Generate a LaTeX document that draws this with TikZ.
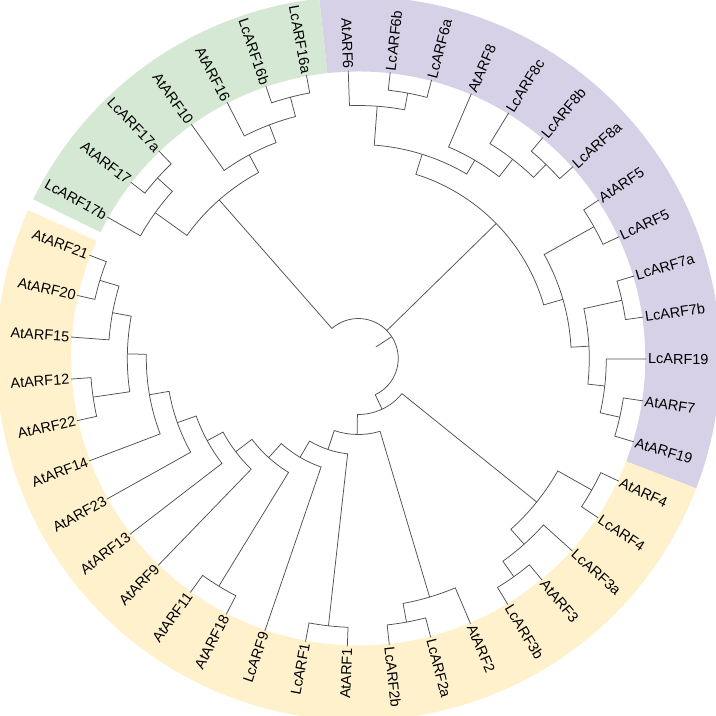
\documentclass[tikz,border=0pt]{standalone}
\usepackage{fontspec}
\setmainfont{Liberation Sans}
\usetikzlibrary{calc}

\definecolor{bandgreen}{RGB}{213,232,212}
\definecolor{bandpurple}{RGB}{215,209,232}
\definecolor{bandyellow}{RGB}{255,241,204}
\definecolor{treegray}{RGB}{80,80,80}

% arc of a clade at the radius of #1, joining children #2 and #3
\newcommand\clade[3]{%
  \draw[branch] let \p1=(#1), \p2=(#2), \p3=(#3),
    \n1={veclen(\x1,\y1)}, \n2={atan2(\y2,\x2)}, \n3={atan2(\y3,\x3)},
    \n4={\n3+360*((\n2-\n3)>270)-360*((\n3-\n2)>270)} in
    (#2) -- (\n2:\n1) arc[start angle=\n2, end angle=\n4, radius=\n1] -- (#3);
}

\begin{document}
\begin{tikzpicture}[x=1pt, y=1pt,
  branch/.style={draw=treegray, line width=0.75pt},
  leafR/.style={anchor=west, inner sep=1.6pt, font=\fontsize{14.5}{16}\selectfont},
  leafL/.style={anchor=east, inner sep=1.6pt, font=\fontsize{14.5}{16}\selectfont}]
	\useasboundingbox (-358.3,-357.5) rectangle (357.7,358.5);
	\clip (-358.3,-357.5) rectangle (357.7,358.5);

	\fill[bandpurple] (96.19:287) arc[start angle=96.19, end angle=-21.02, radius=287]
	  -- (-21.02:362) arc[start angle=-21.02, end angle=96.19, radius=362] -- cycle;
	\fill[bandgreen] (96.19:287) arc[start angle=96.19, end angle=153.9, radius=287]
	  -- (153.9:362) arc[start angle=153.9, end angle=96.19, radius=362] -- cycle;
	\fill[bandyellow] (155.8:287) arc[start angle=155.8, end angle=338.98, radius=287]
	  -- (338.98:362) arc[start angle=338.98, end angle=155.8, radius=362] -- cycle;

	\foreach \lab [count=\k from 1] in {LcARF6b,LcARF6a,AtARF8,LcARF8c,LcARF8b,LcARF8a,AtARF5,LcARF5,
	    LcARF7a,LcARF7b,LcARF19,AtARF7,AtARF19,AtARF4,LcARF4,LcARF3a,AtARF3,LcARF3b,AtARF2,LcARF2a,LcARF2b} {
	  \pgfmathsetmacro\ang{92-360/43*\k}
	  \path (\ang:288) coordinate (\lab) node[leafR, rotate=\ang] (\lab-l) {\lab};
	}
	\foreach \lab [count=\k from 22] in {AtARF1,LcARF1,LcARF9,AtARF18,AtARF11,AtARF9,AtARF13,AtARF23,AtARF14,
	    AtARF22,AtARF12,AtARF15,AtARF20,AtARF21,LcARF17b,AtARF17,LcARF17a,AtARF10,AtARF16,LcARF16b,LcARF16a,AtARF6} {
	  \pgfmathsetmacro\ang{92-360/43*\k}
	  \path (\ang:288) coordinate (\lab) node[leafL, rotate=\ang+180] (\lab-l) {\lab};
	}

	\coordinate (n6ab) at (79.45:270);
	\coordinate (n6) at (85.72:253);
	\coordinate (n8ab) at (45.95:270);
	\coordinate (n8c) at (52.23:252);
	\coordinate (n8) at (59.56:230);
	\coordinate (nA) at (72.64:214);
	\coordinate (n5) at (29.21:270);
	\coordinate (n7ab) at (12.46:270);
	\coordinate (n7b) at (-12.65:268);
	\coordinate (nE) at (-6.37:248);
	\coordinate (nD) at (3.05:231);
	\coordinate (nC) at (16.13:213);
	\coordinate (nB) at (44.38:193);
	\coordinate (n16ab) at (104.56:270);
	\coordinate (n16) at (110.84:250);
	\coordinate (n10) at (118.17:231);
	\coordinate (n17a) at (138.05:270);
	\coordinate (n17) at (144.32:250);
	\coordinate (nG) at (131.25:211);
	\coordinate (n4) at (-29.40:268);
	\coordinate (n3) at (-54.51:268);
	\coordinate (n3a) at (-48.23:249);
	\coordinate (n34) at (-38.81:229);
	\coordinate (n2ab) at (-79.63:268);
	\coordinate (n2) at (-73.35:249);
	\coordinate (n1) at (-96.37:269);
	\coordinate (n1118) at (-121.49:267);
	\coordinate (n2021) at (163.17:270);
	\coordinate (n15) at (169.44:250);
	\coordinate (n1222) at (-171.72:268);
	\coordinate (nX) at (-181.14:231);
	\coordinate (nL8) at (-170.15:212);
	\coordinate (nL6) at (-160.47:192);
	\coordinate (nL5) at (-151.45:172);
	\coordinate (nL4) at (-142.75:154);
	\coordinate (nL3) at (-132.12:134);
	\coordinate (nL2) at (-120.53:115);
	\coordinate (nL) at (-108.45:96);
	\coordinate (nY2) at (-90.90:76);
	\coordinate (nY1) at (-64.86:56);
	\coordinate (root) at (33.2:40);
	\coordinate (base) at (33.2:21);

	\clade{n6ab}{LcARF6b}{LcARF6a}
	\clade{n6}{AtARF6}{n6ab}
	\clade{n8ab}{LcARF8b}{LcARF8a}
	\clade{n8c}{LcARF8c}{n8ab}
	\clade{n8}{AtARF8}{n8c}
	\clade{nA}{n6}{n8}
	\clade{n5}{AtARF5}{LcARF5}
	\clade{n7ab}{LcARF7a}{LcARF7b}
	\clade{n7b}{AtARF7}{AtARF19}
	\clade{nE}{LcARF19}{n7b}
	\clade{nD}{n7ab}{nE}
	\clade{nC}{n5}{nD}
	\clade{nB}{nA}{nC}
	\clade{n16ab}{LcARF16b}{LcARF16a}
	\clade{n16}{AtARF16}{n16ab}
	\clade{n10}{AtARF10}{n16}
	\clade{n17a}{AtARF17}{LcARF17a}
	\clade{n17}{LcARF17b}{n17a}
	\clade{nG}{n17}{n10}
	\clade{n4}{AtARF4}{LcARF4}
	\clade{n3}{AtARF3}{LcARF3b}
	\clade{n3a}{LcARF3a}{n3}
	\clade{n34}{n4}{n3a}
	\clade{n2ab}{LcARF2a}{LcARF2b}
	\clade{n2}{AtARF2}{n2ab}
	\clade{n1}{AtARF1}{LcARF1}
	\clade{n1118}{AtARF18}{AtARF11}
	\clade{n2021}{AtARF20}{AtARF21}
	\clade{n15}{AtARF15}{n2021}
	\clade{n1222}{AtARF22}{AtARF12}
	\clade{nX}{n15}{n1222}
	\clade{nL8}{nX}{AtARF14}
	\clade{nL6}{nL8}{AtARF23}
	\clade{nL5}{nL6}{AtARF13}
	\clade{nL4}{nL5}{AtARF9}
	\clade{nL3}{nL4}{n1118}
	\clade{nL2}{nL3}{LcARF9}
	\clade{nL}{nL2}{n1}
	\clade{nY2}{nL}{n2}
	\clade{nY1}{nY2}{n34}
	\clade{root}{nG}{nY1}
	\draw[branch] let \p1=(root), \p2=(nB), \n1={veclen(\x1,\y1)}, \n2={atan2(\y2,\x2)} in
	  (nB) -- (\n2:\n1);
	\draw[branch] (root) -- (base);
\end{tikzpicture}
\end{document}
